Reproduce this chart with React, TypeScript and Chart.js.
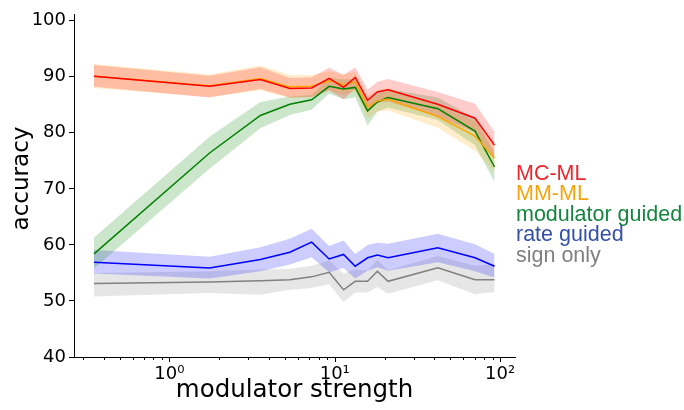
import React, { useEffect, useRef } from 'react';
import { Chart, registerables } from 'chart.js';

Chart.register(...registerables);

// ---------- data ----------
const strengths = [0.35, 1.75, 3.55, 5.35, 7.25, 9.25, 11.3, 13.3, 15.8, 18.1, 21, 42, 70.5, 92.5];

const mcmlMean  = [90.1, 88.3, 89.5, 87.9, 88.0, 89.7, 88.1, 89.9, 85.8, 87.3, 87.7, 85.1, 82.6, 77.8];
const mcmlUpper = [92.1, 90.2, 91.7, 89.8, 89.9, 91.6, 90.3, 91.7, 87.7, 89.1, 89.6, 87.3, 85.2, 80.2];
const mcmlLower = [88.2, 86.3, 87.8, 86.3, 86.4, 87.6, 86.0, 87.9, 83.9, 85.4, 85.6, 82.9, 80.1, 75.3];

const mmmlMean  = [90.1, 88.4, 89.7, 88.2, 88.3, 89.3, 88.6, 89.1, 84.6, 85.7, 86.0, 82.9, 79.4, 75.5];
const mmmlUpper = [92.3, 90.4, 92.0, 90.3, 90.3, 91.0, 90.4, 90.9, 86.6, 87.6, 88.0, 85.0, 82.0, 78.0];
const mmmlLower = [88.0, 86.4, 87.6, 86.2, 86.3, 87.5, 86.8, 87.3, 82.6, 83.8, 84.0, 80.9, 76.8, 73.0];

const modMean  = [58.4, 76.4, 83.1, 85.1, 85.9, 88.3, 87.8, 88.1, 83.9, 85.5, 86.3, 84.3, 80.3, 73.9];
const modUpper = [61.3, 79.3, 85.5, 86.5, 86.8, 89.8, 89.5, 89.6, 85.5, 86.8, 87.8, 86.3, 82.6, 76.5];
const modLower = [55.8, 73.6, 80.8, 83.2, 84.1, 87.0, 86.0, 86.3, 81.3, 83.8, 84.5, 82.3, 77.8, 71.2];

const rateMean  = [56.9, 55.9, 57.4, 58.7, 60.5, 57.5, 58.3, 56.2, 57.7, 58.2, 57.7, 59.5, 57.7, 56.2];
const rateUpper = [59.1, 57.9, 59.6, 61.1, 62.9, 59.8, 60.8, 58.4, 60.0, 60.4, 60.2, 62.0, 60.1, 58.4];
const rateLower = [54.9, 54.0, 55.3, 56.5, 57.8, 55.1, 55.9, 54.0, 55.4, 56.0, 55.4, 56.9, 55.3, 54.2];

const signMean  = [53.1, 53.4, 53.6, 53.8, 54.3, 55.1, 52.0, 53.5, 53.5, 55.3, 53.5, 55.9, 53.8, 53.8];
const signUpper = [55.0, 55.3, 55.6, 55.7, 56.3, 57.2, 54.9, 55.6, 55.5, 57.3, 55.5, 58.0, 56.3, 56.6];
const signLower = [50.8, 51.4, 51.1, 52.0, 52.3, 53.0, 49.8, 51.5, 51.5, 52.5, 51.3, 53.7, 51.2, 51.6];

const seriesNames = ['MC-ML', 'MM-ML', 'modulator guided', 'rate guided', 'sign only'];
const lineColors = ['#ff0000', '#ffa500', '#008000', '#0000ff', '#808080'];
const bandColors = ['rgba(255,0,0,0.2)', 'rgba(255,165,0,0.2)', 'rgba(0,128,0,0.2)', 'rgba(0,0,255,0.2)', 'rgba(128,128,128,0.2)'];
const legendColors = ['#e8262b', '#f5a40a', '#16853f', '#3550a6', '#808080'];

const xMajorTicks = [1, 10, 100];
const xMajorLabels = ['10⁰', '10¹', '10²'];
const xMinorTicks = [0.3, 0.4, 0.5, 0.6, 0.7, 0.8, 0.9, 2, 3, 4, 5, 6, 7, 8, 9, 20, 30, 40, 50, 60, 70, 80, 90];
const yTicks = [40, 50, 60, 70, 80, 90, 100];
const yTitle = 'accuracy';
const xTitle = 'modulator strength';

const seriesMeans = [mcmlMean, mmmlMean, modMean, rateMean, signMean];
const seriesUppers = [mcmlUpper, mmmlUpper, modUpper, rateUpper, signUpper];
const seriesLowers = [mcmlLower, mmmlLower, modLower, rateLower, signLower];

const FONT = '"DejaVu Sans", sans-serif';

const pts = (ys: number[]) => strengths.map((x, i) => ({ x, y: ys[i] }));

const xTickMarks = {
  id: 'xTickMarks',
  afterDraw(chart: any) {
    const { ctx, chartArea } = chart;
    const sx = chart.scales.x;
    ctx.save();
    ctx.strokeStyle = '#000';
    ctx.lineWidth = 1;
    const draw = (v: number, len: number) => {
      const px = Math.round(sx.getPixelForValue(v)) + 0.5;
      ctx.beginPath();
      ctx.moveTo(px, chartArea.bottom);
      ctx.lineTo(px, chartArea.bottom + len);
      ctx.stroke();
    };
    xMinorTicks.forEach((v) => draw(v, 3));
    xMajorTicks.forEach((v) => draw(v, 5));
    ctx.restore();
  },
};

const yTitlePlugin = {
  id: 'yTitlePlugin',
  afterDraw(chart: any) {
    const { ctx, chartArea } = chart;
    ctx.save();
    ctx.font = '23px ' + FONT;
    ctx.fillStyle = '#000';
    ctx.textAlign = 'center';
    ctx.textBaseline = 'middle';
    ctx.translate(22, (chartArea.top + chartArea.bottom) / 2 - 7);
    ctx.rotate(-Math.PI / 2);
    ctx.fillText(yTitle, 0, 0);
    ctx.restore();
  },
};

const textLegend = {
  id: 'textLegend',
  afterDraw(chart: any) {
    const { ctx, chartArea } = chart;
    ctx.save();
    ctx.font = '21.5px "Liberation Sans", Arial, sans-serif';
    ctx.textAlign = 'left';
    ctx.textBaseline = 'alphabetic';
    seriesNames.forEach((name, i) => {
      ctx.fillStyle = legendColors[i];
      ctx.fillText(name, chartArea.right + 1, 179.5 + i * 20.6);
    });
    ctx.restore();
  },
};

export default function App() {
  const ref = useRef<HTMLCanvasElement>(null);

  useEffect(() => {
    if (!ref.current) return;
    const datasets: any[] = [];
    seriesNames.forEach((name, s) => {
      datasets.push({
        label: name + ' upper',
        data: pts(seriesUppers[s]),
        borderWidth: 0,
        pointRadius: 0,
        fill: false,
        order: 2,
      });
      datasets.push({
        label: name + ' lower',
        data: pts(seriesLowers[s]),
        borderWidth: 0,
        pointRadius: 0,
        fill: '-1',
        backgroundColor: bandColors[s],
        order: 2,
      });
    });
    seriesNames.forEach((name, s) => {
      datasets.push({
        label: name,
        data: pts(seriesMeans[s]),
        borderColor: lineColors[s],
        borderWidth: 1.5,
        pointRadius: 0,
        fill: false,
        order: 1,
      });
    });

    const chart = new Chart(ref.current, {
      type: 'line',
      data: { datasets },
      options: {
        animation: false,
        responsive: false,
        devicePixelRatio: 1,
        layout: { padding: { left: 0, top: 14, right: 169, bottom: 0 } },
        elements: { line: { tension: 0 } },
        plugins: { legend: { display: false }, tooltip: { enabled: false } },
        scales: {
          x: {
            type: 'logarithmic',
            min: 0.265,
            max: 123,
            afterBuildTicks: (sc: any) => {
              sc.ticks = xMajorTicks.map((v) => ({ value: v, major: true }));
            },
            afterFit: (sc: any) => {
              sc.height = 53;
            },
            grid: { display: false, drawTicks: false },
            border: { display: true, color: '#000', width: 1 },
            ticks: {
              autoSkip: false,
              maxRotation: 0,
              padding: 7,
              color: '#000',
              font: { family: FONT, size: 18 },
              callback: (v: any) => {
                const i = xMajorTicks.indexOf(Number(v));
                return i >= 0 ? xMajorLabels[i] : '';
              },
            },
            title: {
              display: true,
              text: xTitle,
              color: '#000',
              font: { family: FONT, size: 24.5 },
              padding: { top: 0, bottom: 5 },
            },
          },
          y: {
            type: 'linear',
            min: 40,
            max: 101.2,
            afterBuildTicks: (sc: any) => {
              sc.ticks = yTicks.map((v) => ({ value: v }));
            },
            afterFit: (sc: any) => {
              sc.width = 74;
            },
            grid: { drawOnChartArea: false, drawTicks: true, tickLength: 5, tickColor: '#000', color: '#000' },
            border: { display: true, color: '#000', width: 1 },
            ticks: {
              padding: 3,
              color: '#000',
              font: { family: FONT, size: 18 },
            },
            title: { display: false },
          },
        },
      },
      plugins: [xTickMarks, yTitlePlugin, textLegend],
    } as any);
    return () => chart.destroy();
  }, []);

  return (
    <div style={{ position: 'absolute', left: 0, top: 0, width: 684, height: 410, background: '#fff' }}>
      <canvas ref={ref} width={684} height={410} style={{ display: 'block' }} />
    </div>
  );
}
